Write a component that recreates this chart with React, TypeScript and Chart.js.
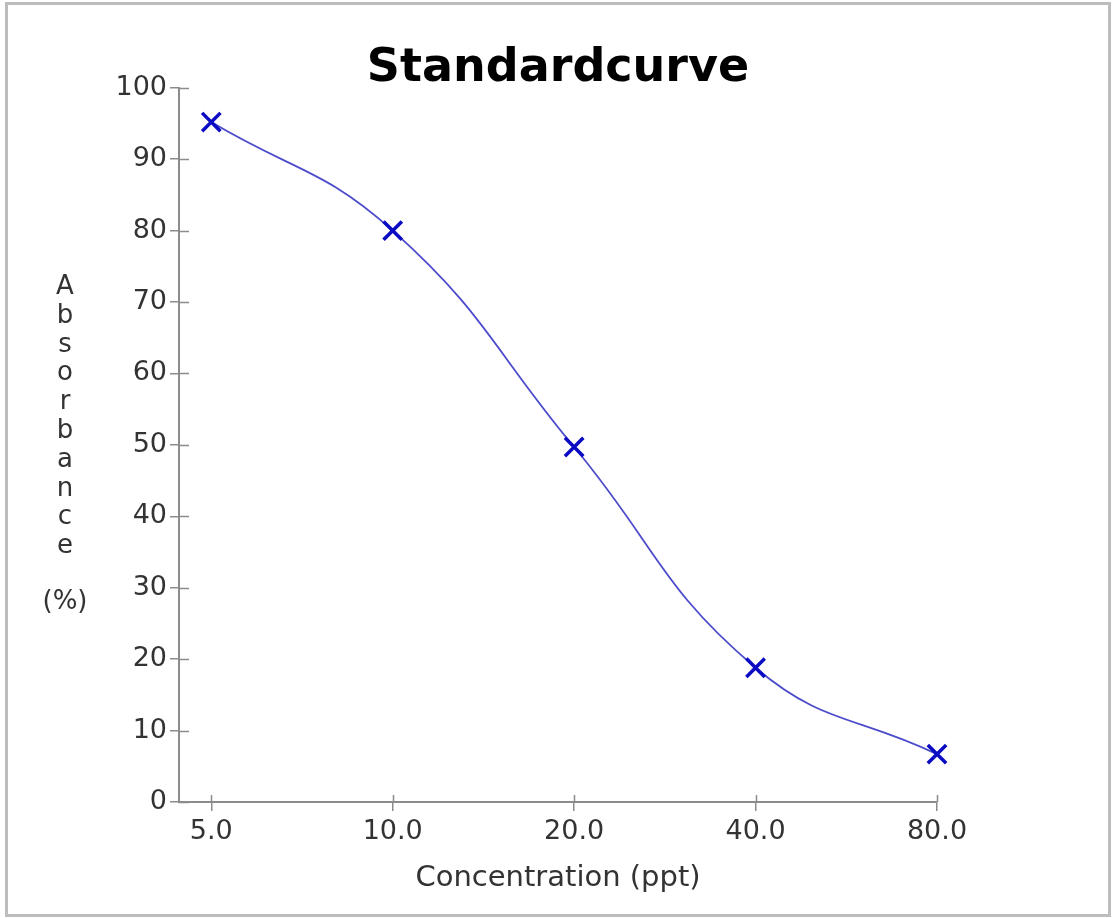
import React, { useEffect, useRef } from "react";
import { Chart, registerables } from "chart.js";

Chart.register(...registerables);

// ---- data ----
const concentrations = [5, 10, 20, 40, 80];
const absorbance = [95.2, 80.0, 49.7, 18.8, 6.7];
const yMin = 0;
const yMax = 100;
const yStep = 10;
const titleText = "Standardcurve";
const xTitleText = "Concentration (ppt)";
const yTitleLetters = ["A", "b", "s", "o", "r", "b", "a", "n", "c", "e"];
const yTitleUnit = "(%)";

const FONT = '"DejaVu Sans", "Liberation Sans", Arial, sans-serif';
const AXIS_COLOR = "#8c8c8c";
const TEXT_COLOR = "#333333";

export default function App() {
  const canvasRef = useRef<HTMLCanvasElement | null>(null);

  useEffect(() => {
    if (!canvasRef.current) return;

    const framePlugin = {
      id: "frame",
      beforeDraw(chart: any) {
        const ctx = chart.ctx;
        ctx.save();
        ctx.fillStyle = "#ffffff";
        ctx.fillRect(0, 0, chart.width, chart.height);
        ctx.strokeStyle = "#bdbdbd";
        ctx.lineWidth = 3;
        ctx.strokeRect(6.5, 3.5, 1103, 912);
        ctx.restore();
      },
    };

    const extrasPlugin = {
      id: "extras",
      afterDraw(chart: any) {
        const { ctx, chartArea, scales } = chart;
        ctx.save();
        ctx.strokeStyle = AXIS_COLOR;
        ctx.lineWidth = 1.5;
        ctx.beginPath();
        scales.y.ticks.forEach((t: any) => {
          const y = Math.round(scales.y.getPixelForValue(t.value)) + 0.5;
          ctx.moveTo(chartArea.left, y);
          ctx.lineTo(chartArea.left + 10, y);
        });
        scales.x.ticks.forEach((t: any) => {
          const x = Math.round(scales.x.getPixelForValue(t.value)) + 0.5;
          ctx.moveTo(x, chartArea.bottom);
          ctx.lineTo(x, chartArea.bottom - 7);
        });
        ctx.stroke();

        // stacked y-axis title
        ctx.font = `26px ${FONT}`;
        ctx.fillStyle = TEXT_COLOR;
        ctx.textAlign = "center";
        ctx.textBaseline = "middle";
        const step = 28.8;
        const gap = 56;
        const n = yTitleLetters.length;
        const total = (n - 1) * step + gap;
        const centerY = (chartArea.top + chartArea.bottom) / 2;
        const start = centerY - total / 2;
        const x = 65;
        yTitleLetters.forEach((ch, i) => {
          ctx.fillText(ch, x, start + i * step);
        });
        ctx.fillText(yTitleUnit, x, start + (n - 1) * step + gap);
        ctx.restore();
      },
    };

    const chart = new Chart(canvasRef.current, {
      type: "line",
      data: {
        datasets: [
          {
            data: concentrations.map((c, i) => ({ x: c, y: absorbance[i] })),
            borderColor: "rgba(66, 66, 200, 0.95)",
            borderWidth: 1.8,
            tension: 0.45,
            clip: false,
            pointStyle: "crossRot",
            pointRadius: 13,
            pointBorderWidth: 3.5,
            pointBorderColor: "#0b0bc4",
            pointBackgroundColor: "#0b0bc4",
            fill: false,
          } as any,
        ],
      },
      options: {
        animation: false,
        responsive: true,
        maintainAspectRatio: false,
        layout: { padding: { left: 0, right: 178, top: 0, bottom: 0 } },
        plugins: {
          legend: { display: false },
          tooltip: { enabled: false },
          title: {
            display: true,
            fullSize: false,
            text: titleText,
            color: "#000000",
            font: { family: FONT, size: 46, weight: "bold", lineHeight: 0.83 },
            padding: { top: 49.6, bottom: 0 },
          },
        },
        scales: {
          x: {
            type: "logarithmic",
            min: 4.42,
            max: 80,
            afterBuildTicks: (scale: any) => {
              scale.ticks = concentrations.map((v) => ({ value: v }));
            },
            afterFit: (scale: any) => {
              scale.height = 116;
            },
            grid: {
              drawOnChartArea: false,
              drawTicks: true,
              tickLength: 9,
              color: AXIS_COLOR,
              lineWidth: 1.5,
            },
            border: { display: true, color: AXIS_COLOR, width: 2 },
            ticks: {
              autoSkip: false,
              maxRotation: 0,
              padding: 5,
              color: TEXT_COLOR,
              font: { family: FONT, size: 27 },
              callback: (value: any) => Number(value).toFixed(1),
            },
            title: {
              display: true,
              text: xTitleText,
              color: TEXT_COLOR,
              font: { family: FONT, size: 29 },
              padding: { top: 0, bottom: 22 },
            },
          },
          y: {
            type: "linear",
            min: yMin,
            max: yMax,
            afterFit: (scale: any) => {
              scale.width = 179;
            },
            grid: {
              drawOnChartArea: false,
              drawTicks: true,
              tickLength: 9,
              color: AXIS_COLOR,
              lineWidth: 1.5,
            },
            border: { display: true, color: AXIS_COLOR, width: 2 },
            ticks: {
              stepSize: yStep,
              padding: 3,
              color: TEXT_COLOR,
              font: { family: FONT, size: 27 },
            },
          },
        },
      } as any,
      plugins: [framePlugin, extrasPlugin],
    });

    return () => chart.destroy();
  }, []);

  return (
    <div style={{ position: "fixed", left: 0, top: 0, width: 1115, height: 918, background: "#fff" }}>
      <canvas ref={canvasRef} />
    </div>
  );
}
